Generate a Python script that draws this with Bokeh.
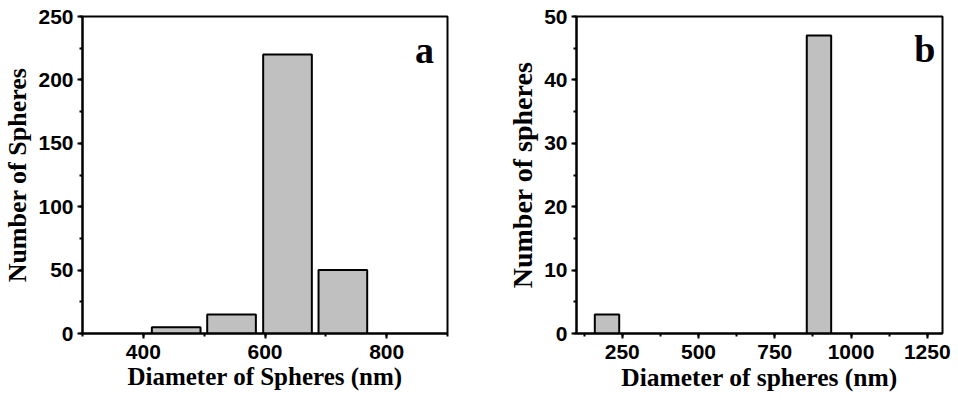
from bokeh.plotting import figure
from bokeh.layouts import row
from bokeh.models import SingleIntervalTicker, Range1d, Label
from bokeh.embed import file_html
from bokeh.resources import INLINE

# Panel a data
a_diam = [454, 545, 637, 728]
a_count = [5, 15, 220, 50]
# Panel b data
b_diam = [200, 895]
b_count = [3, 47]

BAR_W = 80
FILL = "#c0c0c0"


def style(p, xint, yint, xlabel, ylabel, xlab_size, ylab_size):
    for ax in (p.xaxis[0], p.yaxis[0]):
        ax.axis_line_width = 2
        ax.axis_line_color = "black"
        ax.major_tick_line_width = 2
        ax.minor_tick_line_width = 2
        ax.major_tick_out = 5
        ax.major_tick_in = 0
        ax.minor_tick_out = 3
        ax.minor_tick_in = 0
        ax.major_label_text_font = "Liberation Sans"
        ax.major_label_text_font_style = "bold"
        ax.major_label_text_font_size = "21px"
        ax.major_label_text_color = "black"
        ax.axis_label_text_font = "Liberation Serif"
        ax.axis_label_text_font_style = "bold"
        ax.axis_label_text_color = "black"
        ax.axis_label_standoff = 3
    p.xaxis[0].major_label_standoff = 6
    p.yaxis[0].major_label_standoff = 4
    p.xaxis[0].axis_label_standoff = 1
    p.xaxis[0].axis_label_text_font_size = xlab_size
    p.yaxis[0].axis_label_text_font_size = ylab_size
    p.xaxis[0].ticker = SingleIntervalTicker(interval=xint, num_minor_ticks=2)
    p.yaxis[0].ticker = SingleIntervalTicker(interval=yint, num_minor_ticks=2)
    p.xaxis[0].axis_label = xlabel
    p.yaxis[0].axis_label = ylabel
    p.xgrid.visible = False
    p.ygrid.visible = False
    p.outline_line_color = "black"
    p.outline_line_width = 2
    p.outline_line_alpha = 1


pa = figure(width=480, height=403, output_backend="svg", toolbar_location=None,
            x_range=Range1d(300, 900), y_range=Range1d(0, 250),
            min_border_left=81, min_border_right=33, min_border_top=16, min_border_bottom=68)
pa.vbar(x=a_diam, top=a_count, width=BAR_W, bottom=0, fill_color=FILL,
        line_color="black", line_width=2)
style(pa, 200, 50, "Diameter of Spheres (nm)", "Number of Spheres", "25px", "26px")
pa.add_layout(Label(x=878, y=223.5, text="a", text_align="right", text_baseline="alphabetic",
                    text_font="Liberation Serif", text_font_style="bold",
                    text_font_size="38px", text_color="black"))

pb = figure(width=478, height=403, output_backend="svg", toolbar_location=None,
            x_range=Range1d(100, 1300), y_range=Range1d(0, 50),
            min_border_left=96, min_border_right=16, min_border_top=13, min_border_bottom=70)
pb.vbar(x=b_diam, top=b_count, width=BAR_W, bottom=0, fill_color=FILL,
        line_color="black", line_width=2)
style(pb, 250, 10, "Diameter of spheres (nm)", "Number of spheres", "25.5px", "28px")
pb.add_layout(Label(x=1277, y=44.8, text="b", text_align="right", text_baseline="alphabetic",
                    text_font="Liberation Serif", text_font_style="bold",
                    text_font_size="38px", text_color="black"))

layout = row(pa, pb)
open("out.html", "w").write(file_html(layout, INLINE))
